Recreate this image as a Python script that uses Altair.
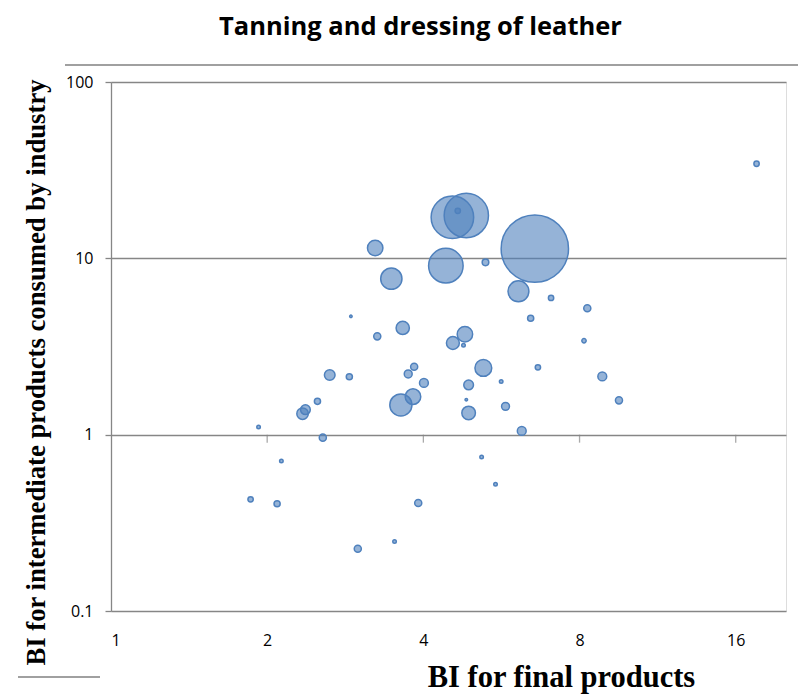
import altair as alt
import pandas as pd

# BI for final products (x), BI for intermediate products (y), bubble weight
bi_final = [17.55, 4.84, 4.55, 4.66, 6.56, 3.23, 4.42, 5.27, 3.47, 6.10,
            7.05, 8.28, 2.90, 6.44, 3.65, 3.26, 4.81, 4.56, 4.78, 8.16,
            5.22, 3.84, 3.74, 4.01, 2.64, 2.88, 6.65, 8.85, 9.53, 4.89,
            5.65, 3.62, 3.82, 2.50, 2.37, 2.34, 4.84, 4.89, 5.76, 1.925,
            2.56, 6.19, 2.13, 5.18, 5.51, 1.858, 2.09, 3.91, 2.99, 3.52]
bi_intermediate = [34.4, 17.5, 17.1, 18.6, 11.35, 11.45, 9.09, 9.49, 7.67, 6.50,
                   5.96, 5.21, 4.69, 4.57, 4.03, 3.61, 3.71, 3.31, 3.21, 3.41,
                   2.39, 2.43, 2.21, 1.966, 2.18, 2.13, 2.41, 2.14, 1.565, 1.914,
                   2.00, 1.474, 1.643, 1.545, 1.386, 1.316, 1.58, 1.328, 1.447, 1.106,
                   0.962, 1.05, 0.709, 0.747, 0.523, 0.430, 0.406, 0.410, 0.2256, 0.248]
weight = [9, 625, 576, 9, 1444, 76, 380, 14, 144, 139,
          9, 16, 2, 12, 56, 16, 76, 53, 4, 6,
          90, 16, 20, 25, 36, 12, 9, 25, 16, 30,
          4, 156, 77, 12, 30, 42, 2, 59, 20, 4,
          16, 25, 4, 4, 4, 9, 12, 16, 16, 4]

x_ticks = [1, 2, 4, 8, 16]
x_axis_ticks = [2, 4, 8, 16]
y_ticks = [0.1, 1, 10, 100]

df = pd.DataFrame({"x": bi_final, "y": bi_intermediate, "w": weight})
tick_df = pd.DataFrame({"t": x_axis_ticks})

W, H = 675, 529
GRID = "#868686"
BLUE = "#4F81BD"

xscale = alt.Scale(type="log", base=2, domain=[1, 20], nice=False)
yscale = alt.Scale(type="log", base=10, domain=[0.1, 100], nice=False)

points = alt.Chart(df).mark_circle(
    color=BLUE, fillOpacity=0.6, stroke=BLUE, strokeWidth=1.5, opacity=1
).encode(
    x=alt.X("x:Q", scale=xscale,
            axis=alt.Axis(values=x_ticks, format="d", ticks=False, grid=False,
                          domain=False, labelFont="Open Sans", labelFontSize=16,
                          labelColor="#000000", labelPadding=21,
                          title="BI for final products", titleFont="Liberation Serif",
                          titleFontSize=30.5, titleFontWeight="bold", titleColor="#000000",
                          titleX=450, titleY=66, titleAnchor="middle",
                          titleBaseline="middle")),
    y=alt.Y("y:Q", scale=yscale,
            axis=alt.Axis(values=y_ticks, format="~g", grid=True, gridColor=GRID,
                          gridWidth=1.3, domainColor=GRID, domainWidth=1.3,
                          tickColor=GRID, tickSize=6, tickWidth=1.3,
                          labelFont="Open Sans", labelFontSize=16, labelColor="#000000",
                          labelPadding=12,
                          title="BI for intermediate products consumed by industry",
                          titleFont="Liberation Serif", titleFontSize=26.7,
                          titleFontWeight="bold", titleColor="#000000",
                          titleX=-75, titleY=290, titleAngle=270, titleAnchor="middle",
                          titleBaseline="middle")),
    size=alt.Size("w:Q", scale=alt.Scale(domain=[0, 1444], range=[0, 4536], zero=True),
                  legend=None),
)

xticks = alt.Chart(tick_df).mark_tick(
    orient="vertical", color=GRID, size=8, thickness=1.3, yOffset=4
).encode(
    x=alt.X("t:Q", scale=xscale),
    y=alt.Y("one:Q", scale=yscale),
).transform_calculate(one="1")

top_line = alt.Chart(tick_df).mark_rule(color="#999999", strokeWidth=1.2).encode(
    x=alt.value(-46), x2=alt.value(695), y=alt.value(-17))
bottom_line = alt.Chart(tick_df).mark_rule(color="#999999", strokeWidth=1.2).encode(
    x=alt.value(-93), x2=alt.value(-11), y=alt.value(595))

chart = alt.layer(xticks, points, top_line, bottom_line).properties(
    width=W, height=H,
    title=alt.TitleParams("Tanning and dressing of leather", font="Open Sans",
                          fontSize=25.5, fontWeight="bold", color="#000000",
                          anchor="middle", dx=-28, offset=24),
    autosize=alt.AutoSizeParams(type="none"),
    padding={"left": 103, "top": 74, "right": 12, "bottom": 84},
).configure_view(stroke=None).configure(background="white")

chart.save("out.html", embed_options={"renderer": "svg", "actions": False})
